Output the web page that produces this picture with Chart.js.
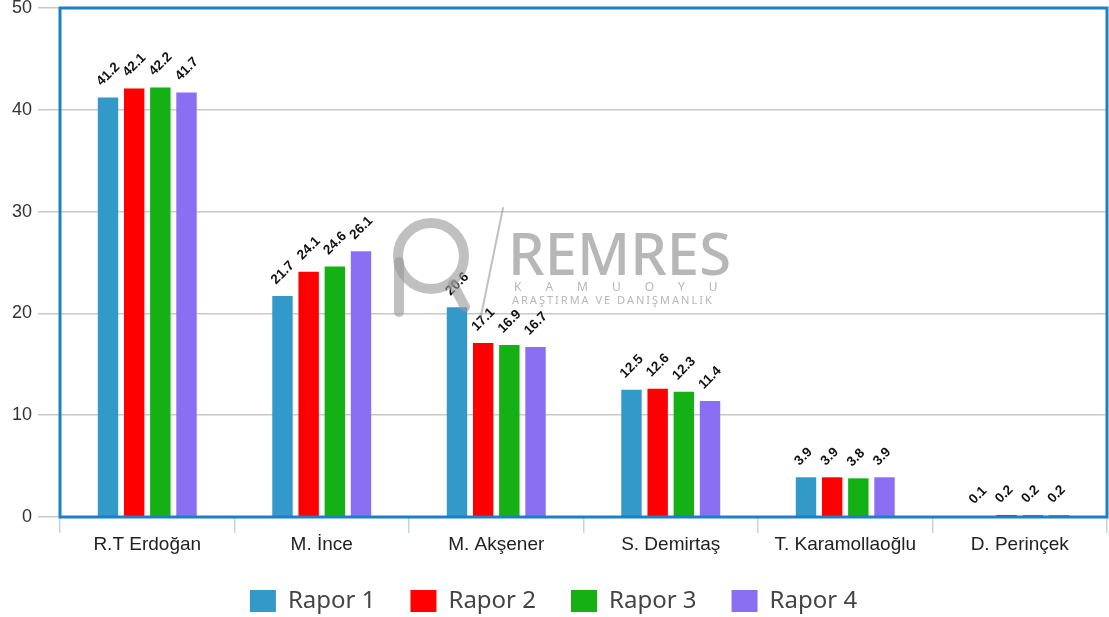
<!DOCTYPE html>
<html>
<head>
<meta charset="utf-8">
<script src="https://cdn.jsdelivr.net/npm/chart.js@4"></script>
<style>
  html, body { margin: 0; padding: 0; background: #fff; }
  #wrap { width: 1109px; height: 617px; }
</style>
</head>
<body>
<div id="wrap"><canvas id="chart" width="1109" height="617"></canvas></div>
<script>
const adaylar = ['R.T Erdoğan', 'M. İnce', 'M. Akşener', 'S. Demirtaş', 'T. Karamollaoğlu', 'D. Perinçek'];
const rapor1 = [41.2, 21.7, 20.6, 12.5, 3.9, 0.1];
const rapor2 = [42.1, 24.1, 17.1, 12.6, 3.9, 0.2];
const rapor3 = [42.2, 24.6, 16.9, 12.3, 3.8, 0.2];
const rapor4 = [41.7, 26.1, 16.7, 11.4, 3.9, 0.2];
const yTicks = [0, 10, 20, 30, 40, 50];

const renkler = ['#3399c8', '#ff0000', '#14b014', '#8b6ff3'];

// blue frame around the plot area
const cerceve = {
  id: 'cerceve',
  afterDraw(chart) {
    const a = chart.chartArea, ctx = chart.ctx;
    ctx.save();
    ctx.strokeStyle = '#1f7fc4';
    ctx.lineWidth = 3;
    ctx.strokeRect(a.left, a.top, a.right - a.left, a.bottom - a.top);
    ctx.restore();
  }
};

// rotated value labels over each bar
const degerler = {
  id: 'degerler',
  afterDatasetsDraw(chart) {
    const ctx = chart.ctx;
    ctx.save();
    ctx.font = 'bold 13.5px "Liberation Sans", Arial, sans-serif';
    ctx.fillStyle = '#111';
    ctx.textAlign = 'left';
    ctx.textBaseline = 'middle';
    chart.data.datasets.forEach((ds, i) => {
      chart.getDatasetMeta(i).data.forEach((bar, j) => {
        ctx.save();
        ctx.translate(bar.x - 9, bar.y - 14);
        ctx.rotate(-Math.PI / 4);
        ctx.fillText(ds.data[j].toFixed(1), 0, 0);
        ctx.restore();
      });
    });
    ctx.restore();
  }
};

// REMRES watermark
const filigran = {
  id: 'filigran',
  afterDatasetsDraw(chart) {
    const ctx = chart.ctx;
    ctx.save();
    ctx.strokeStyle = 'rgba(150,150,150,0.6)';
    ctx.lineCap = 'round';
    ctx.lineWidth = 10;
    ctx.beginPath();
    ctx.arc(431, 256, 33, 0, Math.PI * 2);
    ctx.stroke();
    ctx.beginPath();
    ctx.moveTo(399, 262);
    ctx.lineTo(399, 312);
    ctx.stroke();
    ctx.beginPath();
    ctx.moveTo(453, 284);
    ctx.lineTo(465, 307);
    ctx.stroke();
    ctx.lineWidth = 2;
    ctx.beginPath();
    ctx.moveTo(503, 208);
    ctx.lineTo(481, 316);
    ctx.stroke();
    ctx.fillStyle = 'rgba(165,165,165,0.8)';
    ctx.font = '500 58px "Noto Sans", sans-serif';
    ctx.textBaseline = 'alphabetic';
    ctx.textAlign = 'left';
    ctx.fillText('REMRES', 508, 275);
    ctx.font = '12px "Noto Sans", sans-serif';
    ctx.letterSpacing = '24px';
    ctx.fillText('KAMUOYU', 514, 291);
    ctx.font = '11px "Noto Sans", sans-serif';
    ctx.letterSpacing = '2px';
    ctx.fillText('ARAŞTIRMA VE DANIŞMANLIK', 512, 304);
    ctx.restore();
  }
};

const veriSetleri = [rapor1, rapor2, rapor3, rapor4].map((d, i) => ({
  label: 'Rapor ' + (i + 1),
  data: d,
  backgroundColor: renkler[i],
  borderWidth: 0,
  categoryPercentage: 0.6,
  barPercentage: 0.78
}));

new Chart(document.getElementById('chart').getContext('2d'), {
  type: 'bar',
  data: { labels: adaylar, datasets: veriSetleri },
  options: {
    responsive: false,
    animation: false,
    layout: { padding: { top: 8, right: 2, left: 0, bottom: -6 } },
    plugins: {
      tooltip: { enabled: false },
      legend: {
        position: 'bottom',
        labels: {
          boxWidth: 26,
          boxHeight: 22,
          padding: 35,
          color: '#444',
          font: { family: '"Noto Sans", sans-serif', size: 24 }
        }
      }
    },
    scales: {
      y: {
        min: 0,
        max: 50,
        afterBuildTicks(axis) { axis.ticks = yTicks.map(v => ({ value: v })); },
        afterFit(axis) { axis.width = 60; axis.paddingTop = 0; axis.paddingBottom = 0; },
        grid: { color: '#c8c8c8', lineWidth: 1.5, tickLength: 22, drawTicks: true },
        border: { display: false },
        ticks: {
          padding: 6,
          color: '#333',
          font: { family: '"Liberation Sans", Arial, sans-serif', size: 18 }
        }
      },
      x: {
        afterFit(axis) { axis.height = 37; },
        grid: { drawOnChartArea: false, color: '#c5d2df', lineWidth: 1.5, tickLength: 16 },
        border: { display: false },
        ticks: {
          padding: 0,
          color: '#222',
          font: { family: '"Liberation Sans", Arial, sans-serif', size: 19 }
        }
      }
    }
  },
  plugins: [cerceve, degerler, filigran]
});
</script>
</body>
</html>
